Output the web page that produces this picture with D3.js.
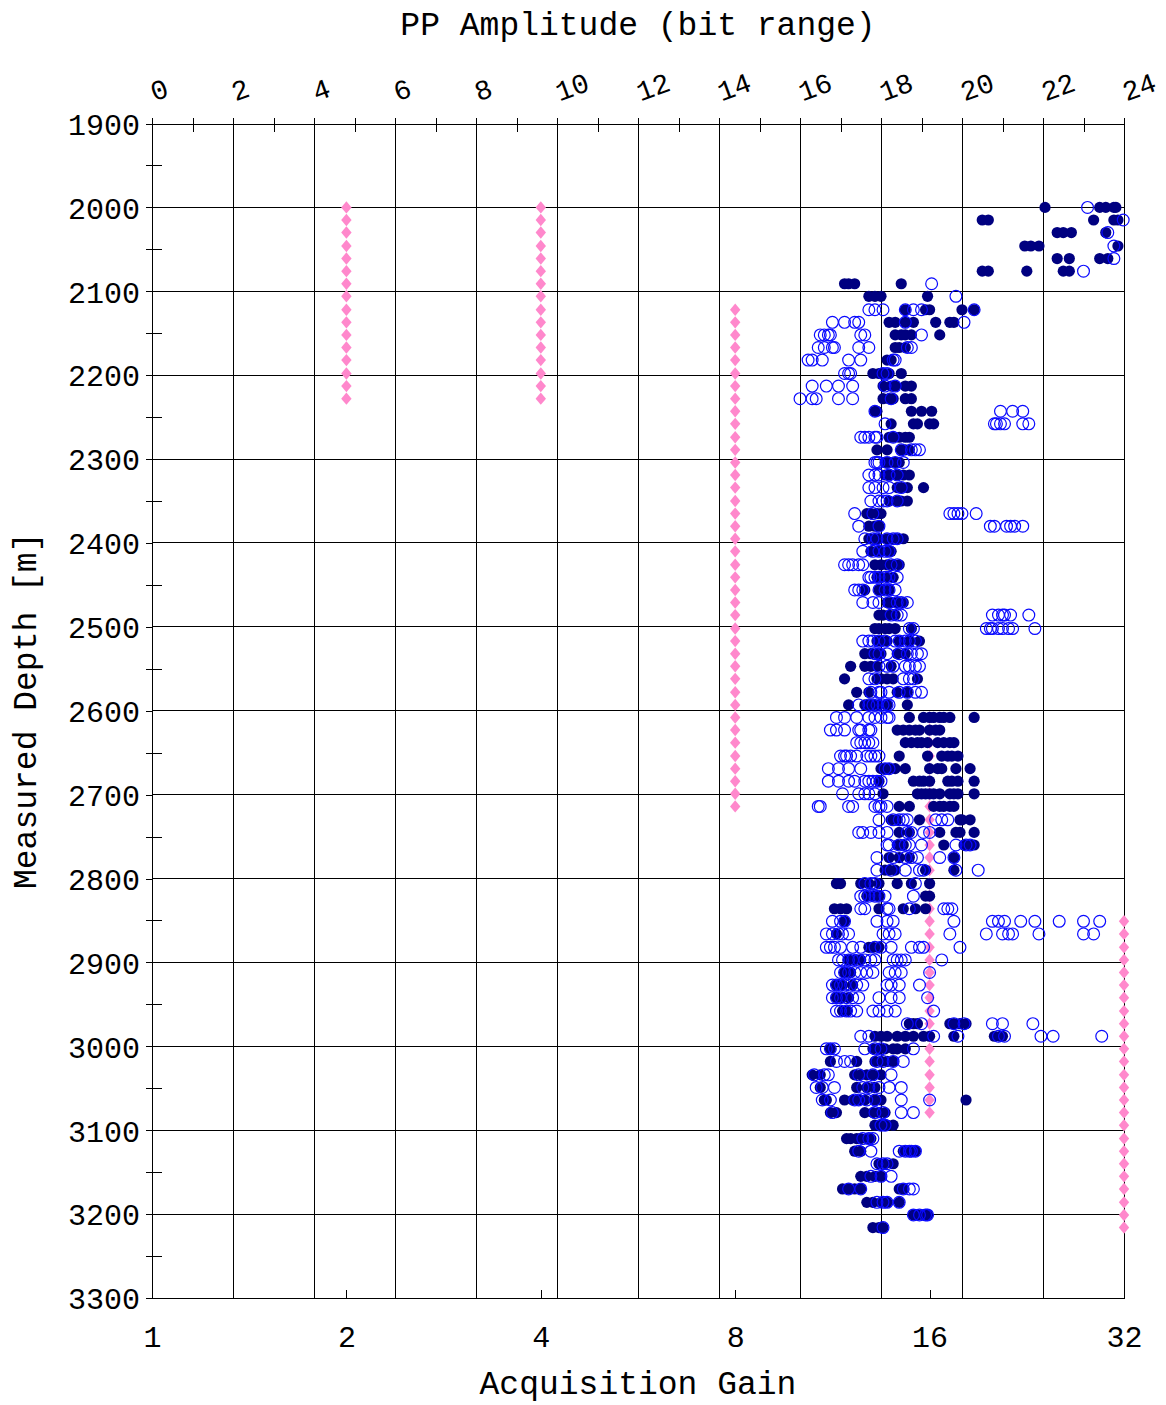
<!DOCTYPE html>
<html>
<head>
<meta charset="utf-8">
<script src="https://cdn.jsdelivr.net/npm/d3@7"></script>
<style>
  body { margin: 0; background: #fff; }
  text { font-family: "Liberation Mono", "DejaVu Sans Mono", monospace; fill: #000; }
</style>
</head>
<body>
<svg id="chart" width="1166" height="1405"></svg>
<script>
// ---- data ---------------------------------------------------------------
// Depth of each receiver level [m]
const levelDepths = [
  2000, 2015, 2030, 2046, 2061, 2076, 2091, 2106, 2122, 2137,
  2152, 2167, 2182, 2198, 2213, 2228, 2243, 2258, 2274, 2289,
  2304, 2319, 2334, 2350, 2365, 2380, 2395, 2410, 2426, 2441,
  2456, 2471, 2486, 2502, 2517, 2532, 2547, 2562, 2578, 2593,
  2608, 2623, 2638, 2654, 2669, 2684, 2699, 2714, 2730, 2745,
  2760, 2775, 2790, 2806, 2821, 2836, 2851, 2866, 2882, 2897,
  2912, 2927, 2942, 2958, 2973, 2988, 3003, 3018, 3034, 3049,
  3064, 3079, 3094, 3110, 3125, 3140, 3155, 3170, 3186, 3201,
  3216
];

// Acquisition gain settings used at each level
const levelGains = [
  [2,4],[2,4],[2,4],[2,4],[2,4],[2,4],[2,4],[2,4],
  [2,4,8],[2,4,8],[2,4,8],[2,4,8],[2,4,8],[2,4,8],[2,4,8],[2,4,8],
  [8],[8],[8],[8],[8],[8],[8],[8],[8],[8],[8],[8],
  [8],[8],[8],[8],[8],[8],[8],[8],[8],[8],[8],[8],
  [8,16],[8,16],[8,16],[8,16],[8,16],[8,16],[8,16],[8,16],
  [16],[16],[16],[16],[16],[16],[16],[16],
  [16,32],[16,32],[16,32],[16,32],[16,32],[16,32],[16,32],[16,32],
  [16,32],[16,32],[16,32],[16,32],[16,32],[16,32],[16,32],[16,32],
  [32],[32],[32],[32],[32],[32],[32],[32],[32]
];

// PP amplitude (bit range), traces drawn as filled dots
const filledAmp = [
  [22.05, 23.4, 23.55, 23.75, 23.8],
  [20.5, 20.65, 23.25, 23.75, 23.85],
  [22.35, 22.5, 22.7, 23.55],
  [21.55, 21.7, 21.9, 23.85],
  [22.35, 22.65, 23.4, 23.6],
  [20.5, 20.65, 21.6, 22.5, 22.65],
  [17.1, 17.2, 17.35, 18.5],
  [17.7, 17.85, 18.0, 19.15],
  [18.6, 19.1, 19.2, 20.0, 20.3],
  [18.2, 18.35, 18.6, 18.8, 19.35, 19.7, 19.8],
  [18.35, 18.5, 18.6, 18.75, 19.45],
  [18.35, 18.45, 18.6],
  [18.15, 18.25],
  [17.8, 17.95, 18.05, 18.2, 18.5],
  [18.05, 18.25, 18.35, 18.6, 18.75],
  [18.05, 18.2, 18.3, 18.6, 18.75],
  [17.85, 17.9, 18.75, 19.0, 19.25],
  [18.25, 18.8, 18.9, 19.2, 19.3],
  [18.2, 18.3, 18.45, 18.6, 18.7],
  [17.9, 18.15, 18.5, 18.6, 18.7],
  [18.1, 18.2, 18.35, 18.45],
  [18.1, 18.2, 18.4, 18.55, 18.7],
  [18.4, 18.5, 18.65, 19.05],
  [18.2, 18.4, 18.5, 18.65],
  [17.65, 17.75, 17.9, 18.0],
  [17.7, 17.85, 17.95],
  [17.7, 17.85, 17.95, 18.15, 18.25, 18.4, 18.55],
  [17.75, 17.9, 18.0, 18.15, 18.25],
  [17.85, 18.0, 18.15, 18.3, 18.45],
  [17.9, 18.0, 18.15, 18.3],
  [17.6, 17.95, 18.05, 18.2],
  [18.15, 18.25, 18.4, 18.55],
  [17.95, 18.05, 18.2, 18.35],
  [17.85, 17.95, 18.1, 18.2, 18.35, 18.75],
  [17.9, 18.0, 18.15, 18.45, 18.7, 18.95],
  [17.6, 17.75, 17.9, 18.0, 18.4, 18.6],
  [17.25, 17.6, 17.75, 17.9, 18.25],
  [17.1, 17.9, 18.0, 18.15, 18.3, 18.9],
  [17.4, 17.7, 18.4, 18.65],
  [17.2, 17.6, 17.7, 17.8, 17.95, 18.15, 18.65],
  [18.7, 19.05, 19.2, 19.3, 19.45, 19.55, 19.7, 20.3],
  [18.4, 18.55, 18.7, 18.85, 18.95, 19.2, 19.35, 19.45],
  [18.6, 18.75, 18.9, 19.0, 19.15, 19.4, 19.55, 19.7, 19.8],
  [18.45, 19.15, 19.5, 19.65, 19.75, 19.9],
  [18.0, 18.1, 18.2, 18.35, 18.6, 19.2, 19.4, 19.5, 19.85, 20.2],
  [17.95, 18.8, 18.95, 19.05, 19.2, 19.65, 19.75, 19.9, 20.3],
  [18.05, 18.9, 19.0, 19.1, 19.2, 19.3, 19.45, 19.7, 19.8, 19.9, 20.3],
  [18.45, 18.7, 19.3, 19.45, 19.55, 19.7, 19.8],
  [18.25, 18.4, 18.95, 19.95, 20.0, 20.2],
  [18.45, 18.7, 19.45, 19.85, 19.95, 20.3],
  [18.4, 18.55, 19.55, 20.05, 20.2, 20.3],
  [18.2, 18.45, 18.7, 19.8],
  [18.1, 18.2, 18.35, 19.1, 19.8],
  [16.9, 17.0, 17.5, 17.7, 17.95, 18.4, 18.75, 19.2],
  [17.65, 17.8, 17.95, 19.1, 19.2],
  [16.85, 17.0, 17.15, 17.95, 18.55, 18.85, 19.1],
  [17.1],
  [16.9],
  [17.7, 17.8, 17.95],
  [17.2, 17.35, 17.5],
  [17.1, 17.25],
  [16.9, 17.05, 17.3],
  [16.9, 17.05, 17.2],
  [17.05, 17.15],
  [18.7, 18.8, 18.9, 19.7, 19.8, 19.95, 20.1],
  [17.85, 18.0, 18.15, 18.4, 18.6, 18.8, 19.05, 19.2, 19.8, 20.8, 20.95, 21.0],
  [16.75, 17.8, 17.95, 18.1, 18.3, 18.4, 18.6],
  [16.75, 17.4, 17.85, 18.0, 18.15, 18.3],
  [16.3, 16.5, 17.35, 17.5, 17.65, 17.8, 18.0],
  [16.5, 17.4, 17.65, 17.85],
  [16.6, 16.65, 17.1, 17.3, 17.45, 17.6, 17.85, 18.0, 20.1],
  [16.75, 16.9, 17.6, 17.8, 17.95, 18.1],
  [17.85, 18.0, 18.15, 18.3],
  [17.15, 17.25, 17.4, 17.5, 17.65, 17.75],
  [17.35, 17.5, 18.55, 18.7, 18.85],
  [17.95, 18.1, 18.3],
  [17.5, 17.65, 17.85, 18.0],
  [17.05, 17.2, 17.35, 17.5, 18.45, 18.55],
  [17.65, 17.8, 18.0, 18.15, 18.45],
  [18.8, 18.9, 19.05, 19.15],
  [17.8, 17.95, 18.05]
];

// PP amplitude (bit range), traces drawn as open circles
const openAmp = [
  [23.1],
  [23.98],
  [23.6],
  [23.75],
  [23.75],
  [23.0],
  [19.25],
  [19.85],
  [17.7, 17.85, 18.05, 18.6, 18.8, 19.0, 20.3],
  [16.8, 17.1, 17.35, 17.45, 18.6, 20.05],
  [16.5, 16.6, 16.7, 16.75, 17.5, 17.6, 19.0],
  [16.45, 16.6, 16.8, 16.85, 17.45, 17.7, 18.65, 18.75],
  [16.2, 16.3, 16.55, 17.2, 17.5, 18.3, 18.35],
  [17.1, 17.2, 17.25, 18.05, 18.15],
  [16.3, 16.65, 16.95, 17.3, 18.1, 18.35],
  [16.0, 16.3, 16.4, 16.95, 17.3, 18.25],
  [17.85, 20.95, 21.25, 21.5],
  [18.1, 20.8, 20.85, 20.95, 21.05, 21.5, 21.65],
  [17.5, 17.6, 17.7, 17.85, 17.9, 18.3],
  [18.5, 18.75, 18.85, 18.95],
  [17.85, 17.9, 17.95, 18.15, 18.35, 18.55],
  [17.7, 17.85, 17.95, 18.2, 18.4],
  [17.7, 17.85, 18.05, 18.2, 18.5],
  [17.75, 17.95, 18.05, 18.15, 18.4],
  [17.35, 17.8, 19.7, 19.8, 19.9, 20.0, 20.35],
  [17.45, 17.95, 20.7, 20.8, 21.1, 21.2, 21.3, 21.5],
  [17.6, 17.8, 17.9, 18.15, 18.3, 18.4],
  [17.55, 17.8, 17.95, 18.1, 18.2],
  [17.1, 17.2, 17.3, 17.45, 17.55, 18.25, 18.4],
  [17.7, 17.75, 17.85, 17.95, 18.1, 18.2, 18.4],
  [17.35, 17.45, 17.55, 17.95, 18.1, 18.2, 18.35],
  [17.55, 17.8, 17.95, 18.2, 18.4, 18.5, 18.65],
  [18.25, 18.4, 18.5, 20.75, 20.9, 21.0, 21.05, 21.2, 21.65],
  [18.7, 18.8, 20.6, 20.7, 20.75, 20.9, 21.0, 21.15, 21.25, 21.8],
  [17.55, 17.7, 17.8, 17.95, 18.1, 18.35, 18.45, 18.6, 18.7, 18.85],
  [17.85, 17.95, 18.15, 18.45, 18.65, 18.75, 18.9, 19.0],
  [17.95, 18.15, 18.3, 18.6, 18.7, 18.85, 18.95],
  [17.7, 17.85, 18.55, 18.7, 18.8],
  [17.75, 17.95, 18.0, 18.2, 18.45, 18.65, 18.85, 19.0],
  [17.45, 17.7, 17.8, 17.9, 18.05, 18.15, 18.2],
  [16.9, 17.1, 17.4, 17.7, 17.85, 18.0, 18.15, 18.2],
  [16.75, 16.9, 17.1, 17.45, 17.5, 17.7, 17.75],
  [17.4, 17.5, 17.6, 17.7, 17.8],
  [17.0, 17.1, 17.15, 17.25, 17.4, 17.65, 17.75, 17.85, 17.95],
  [16.7, 16.95, 17.2, 17.5, 18.1, 18.2],
  [16.7, 16.95, 17.2, 17.35, 17.6, 17.7, 17.8, 17.9, 18.0],
  [17.05, 17.45, 17.6, 17.7, 17.85],
  [16.45, 16.5, 17.2, 17.3, 17.85, 17.95, 18.0, 18.15],
  [17.95, 18.3, 18.45, 18.55, 18.65, 19.35, 19.5, 19.65],
  [17.45, 17.55, 17.75, 17.95, 18.15, 18.65, 18.75, 19.05, 19.2],
  [18.15, 18.2, 18.45, 18.6, 18.7, 19.0, 19.85, 20.1, 20.2],
  [17.9, 18.3, 18.6, 18.75, 18.9, 19.45, 19.8],
  [17.9, 18.25, 18.6, 18.95, 19.05, 19.85, 20.4],
  [17.6, 17.75, 17.85, 18.85],
  [17.5, 17.6, 17.7, 17.85, 17.95, 18.1, 18.8],
  [17.5, 17.6, 18.15, 18.2, 18.7, 19.55, 19.65, 19.75],
  [16.8, 17.0, 17.1, 17.9, 18.15, 18.3, 19.8, 20.75, 20.9, 21.05, 21.45, 21.8, 22.4, 23.0, 23.4],
  [16.65, 16.8, 16.95, 17.05, 17.2, 18.05, 18.2, 18.35, 19.7, 20.6, 21.0, 21.15, 21.25, 21.9, 23.0, 23.25],
  [16.65, 16.75, 16.85, 17.0, 17.3, 17.5, 17.85, 18.0, 18.25, 18.75, 18.95, 19.05, 19.95],
  [16.95, 17.05, 17.2, 17.3, 17.45, 17.6, 17.75, 17.85, 18.3, 18.4, 18.5, 18.6, 19.5],
  [17.0, 17.1, 17.2, 17.35, 17.5, 17.65, 17.8, 18.2, 18.35, 18.5, 19.2],
  [16.8, 16.9, 17.0, 17.1, 17.25, 17.4, 17.55, 18.15, 18.25, 18.45, 18.95],
  [16.8, 16.9, 17.0, 17.15, 17.3, 17.45, 17.95, 18.25, 18.45, 19.15],
  [16.9, 17.0, 17.15, 17.25, 17.4, 17.8, 17.95, 18.15, 18.35, 19.3],
  [18.65, 19.0, 19.8, 20.05, 20.75, 21.0, 21.75],
  [17.5, 17.7, 19.3, 19.9, 20.9, 21.05, 21.95, 22.25, 23.45],
  [16.65, 16.75, 16.85, 17.6, 17.85, 18.0, 18.8],
  [16.9, 17.1, 17.25, 17.9, 18.05, 18.3, 18.55],
  [16.35, 16.6, 16.7, 17.45, 17.8, 18.25],
  [16.4, 16.55, 16.85, 17.55, 17.7, 17.95, 18.2, 18.5],
  [16.55, 16.75, 17.35, 17.45, 17.65, 17.85, 18.5, 19.2],
  [16.8, 17.85, 18.05, 18.5, 18.8],
  [18.0, 18.1],
  [17.55, 17.7, 17.8],
  [17.45, 17.75, 18.45, 18.6, 18.7, 18.75, 18.85],
  [17.9, 18.05, 18.15],
  [17.75, 18.0, 18.25],
  [17.2, 17.5, 18.55, 18.7, 18.8],
  [17.9, 18.05, 18.15, 18.45],
  [18.8, 18.95, 19.1, 19.15],
  [18.05]
];

// Axis tick values
const ampMajorTicks = [0, 2, 4, 6, 8, 10, 12, 14, 16, 18, 20, 22, 24];
const ampMinorTicks = [1, 3, 5, 7, 9, 11, 13, 15, 17, 19, 21, 23];
const gainTicks = [1, 2, 4, 8, 16, 32];
const depthMajorTicks = [1900, 2000, 2100, 2200, 2300, 2400, 2500, 2600, 2700, 2800, 2900, 3000, 3100, 3200, 3300];
const depthMinorTicks = [1950, 2050, 2150, 2250, 2350, 2450, 2550, 2650, 2750, 2850, 2950, 3050, 3150, 3250];

// ---- chart --------------------------------------------------------------
const svg = d3.select("#chart");
const plotLeft = 152, plotRight = 1124, plotTop = 123.5, plotBottom = 1298;

const x = d3.scaleLinear().domain([0, 24]).range([plotLeft, plotRight]);
const xGain = d3.scaleLog().base(2).domain([1, 32]).range([plotLeft, plotRight]);
const y = d3.scaleLinear().domain([1900, 3300]).range([plotTop, plotBottom]);

const ink = "#000";

// grid
const grid = svg.append("g").attr("shape-rendering", "crispEdges").attr("stroke", ink).attr("stroke-width", 1);
grid.selectAll("line.v").data(ampMajorTicks.slice(1)).join("line")
  .attr("x1", d => x(d)).attr("x2", d => x(d)).attr("y1", plotTop).attr("y2", plotBottom);
grid.selectAll("line.h").data(depthMajorTicks.slice(1)).join("line")
  .attr("x1", plotLeft).attr("x2", plotRight).attr("y1", d => y(d)).attr("y2", d => y(d));

// top axis: PP amplitude
const topAxis = svg.append("g").attr("transform", `translate(0,${plotTop})`)
  .call(d3.axisTop(x).tickValues(ampMajorTicks).tickSize(6).tickSizeOuter(0).tickFormat(d3.format("d")));
topAxis.selectAll("text")
  .attr("x", 2).attr("y", -22).attr("dy", 0)
  .attr("text-anchor", "start")
  .attr("transform", "rotate(-20,2,-22)")
  .style("font-size", "28px");
const topMinor = svg.append("g").attr("transform", `translate(0,${plotTop})`)
  .call(d3.axisTop(x).tickValues(ampMinorTicks).tickSize(6).tickFormat(""));
topMinor.select(".domain").remove();
topMinor.selectAll("line").attr("y1", 8);

// left axis: measured depth
const leftAxis = svg.append("g").attr("transform", `translate(${plotLeft},0)`)
  .call(d3.axisLeft(y).tickValues(depthMajorTicks).tickSize(6).tickSizeOuter(0).tickPadding(6).tickFormat(d3.format("d")));
leftAxis.selectAll("text").attr("dy", "0.36em").style("font-size", "30px");
const leftMinor = svg.append("g").attr("transform", `translate(${plotLeft},0)`)
  .call(d3.axisLeft(y).tickValues(depthMinorTicks).tickSize(6).tickFormat(""));
leftMinor.select(".domain").remove();
leftMinor.selectAll("line").attr("x1", 10);

// bottom axis: acquisition gain
const bottomAxis = svg.append("g").attr("transform", `translate(0,${plotBottom})`)
  .call(d3.axisBottom(xGain).tickValues(gainTicks).tickSize(-8).tickSizeOuter(0).tickFormat(d3.format("d")));
bottomAxis.selectAll("text").attr("y", 49).attr("dy", 0).style("font-size", "30px");

svg.selectAll(".domain, .tick line").attr("stroke", ink).attr("shape-rendering", "crispEdges");
svg.selectAll(".tick text").style("fill", ink);

// axis titles
svg.append("text").attr("x", (plotLeft + plotRight) / 2).attr("y", 35)
  .attr("text-anchor", "middle").style("font-size", "33px").text("PP Amplitude (bit range)");
svg.append("text").attr("x", (plotLeft + plotRight) / 2).attr("y", 1394)
  .attr("text-anchor", "middle").style("font-size", "33px").text("Acquisition Gain");
svg.append("text").attr("transform", `translate(36,${(plotTop + plotBottom) / 2}) rotate(-90)`)
  .attr("text-anchor", "middle").style("font-size", "33px").text("Measured Depth [m]");

// gain markers
const gainPts = levelDepths.flatMap((d, i) => levelGains[i].map(g => ({ g, d })));
svg.append("g").selectAll("path").data(gainPts).join("path")
  .attr("d", "M0,-6.2L5.2,0L0,6.2L-5.2,0Z")
  .attr("transform", p => `translate(${xGain(p.g)},${y(p.d)})`)
  .attr("fill", "#ff88cc");

// amplitudes
const filledPts = levelDepths.flatMap((d, i) => filledAmp[i].map(a => ({ a, d })));
const openPts = levelDepths.flatMap((d, i) => openAmp[i].map(a => ({ a, d })));

svg.append("g").selectAll("circle").data(filledPts).join("circle")
  .attr("cx", p => x(p.a)).attr("cy", p => y(p.d)).attr("r", 5.6)
  .attr("fill", "#000080");

svg.append("g").selectAll("circle").data(openPts).join("circle")
  .attr("cx", p => x(p.a)).attr("cy", p => y(p.d)).attr("r", 5.9)
  .attr("fill", "none").attr("stroke", "#0a0aff").attr("stroke-width", 1.2);
</script>
</body>
</html>
